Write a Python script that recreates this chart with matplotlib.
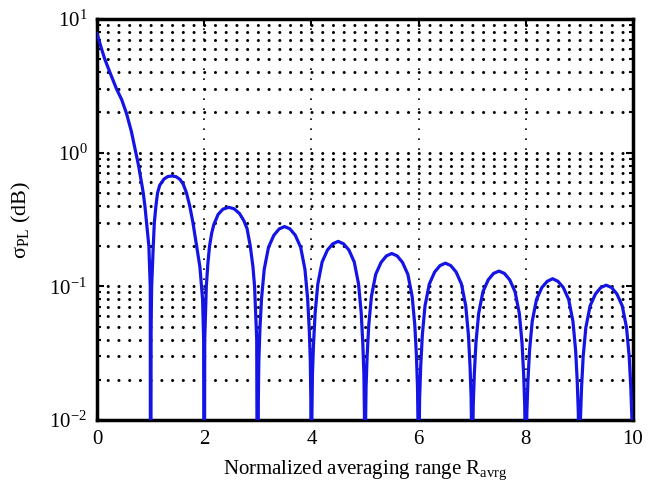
import matplotlib
matplotlib.use("Agg")
import matplotlib.pyplot as plt
from matplotlib.ticker import LogLocator, NullFormatter

plt.rcParams['font.family'] = ['Liberation Serif', 'DejaVu Serif']
plt.rcParams['mathtext.fontset'] = 'custom'
plt.rcParams['mathtext.rm'] = 'Liberation Serif'
plt.rcParams['mathtext.it'] = 'Liberation Serif:italic'

# main lobe (values below 1e-2 just take the line off the axis)
main_x = [0.0, 0.034, 0.084, 0.146, 0.24, 0.364, 0.46, 0.55, 0.64, 0.725, 0.75, 0.776,
          0.80, 0.83, 0.863, 0.894, 0.925, 0.968, 0.994, 1.0]
main_y = [7.8, 7.0, 6.0, 5.0, 4.0, 3.0, 2.5, 1.97, 1.45, 1.0, 0.9, 0.8,
          0.7, 0.6, 0.5, 0.4, 0.3, 0.2, 0.1, 1e-4]

# first two side lobes
lobe1_x = [1.01, 1.02, 1.05, 1.07, 1.10, 1.13, 1.17, 1.25, 1.32, 1.40, 1.48, 1.55,
           1.61, 1.67, 1.73, 1.79, 1.86, 1.92, 1.97, 1.99, 2.0]
lobe1_y = [0.05, 0.1, 0.2, 0.3, 0.4, 0.5, 0.57, 0.635, 0.662, 0.67, 0.66, 0.63,
           0.58, 0.5, 0.4, 0.3, 0.2, 0.14, 0.08, 0.04, 1e-4]
lobe2_x = [2.01, 2.04, 2.07, 2.10, 2.14, 2.18, 2.26, 2.35, 2.46, 2.56, 2.66, 2.74,
           2.80, 2.86, 2.91, 2.94, 2.98, 3.0]
lobe2_y = [0.04, 0.1, 0.15, 0.2, 0.25, 0.29, 0.345, 0.378, 0.39, 0.38, 0.35, 0.31,
           0.27, 0.2, 0.14, 0.1, 0.04, 1e-4]

# remaining side lobes, sampled between the zeros
lobe_x = [
    [3.01, 3.02, 3.04, 3.07, 3.12, 3.2, 3.3, 3.4, 3.5, 3.6, 3.7, 3.8, 3.88, 3.93, 3.96, 3.98, 3.99, 4.0],
    [4.01, 4.02, 4.04, 4.07, 4.12, 4.2, 4.3, 4.4, 4.5, 4.6, 4.7, 4.8, 4.88, 4.93, 4.96, 4.98, 4.99, 5.0],
    [5.01, 5.02, 5.04, 5.07, 5.12, 5.2, 5.3, 5.4, 5.5, 5.6, 5.7, 5.8, 5.88, 5.93, 5.96, 5.98, 5.99, 6.0],
    [6.01, 6.02, 6.04, 6.07, 6.12, 6.2, 6.3, 6.4, 6.5, 6.6, 6.7, 6.8, 6.88, 6.93, 6.96, 6.98, 6.99, 7.0],
    [7.01, 7.02, 7.04, 7.07, 7.12, 7.2, 7.3, 7.4, 7.5, 7.6, 7.7, 7.8, 7.88, 7.93, 7.96, 7.98, 7.99, 8.0],
    [8.01, 8.02, 8.04, 8.07, 8.12, 8.2, 8.3, 8.4, 8.5, 8.6, 8.7, 8.8, 8.88, 8.93, 8.96, 8.98, 8.99, 9.0],
    [9.01, 9.02, 9.04, 9.07, 9.12, 9.2, 9.3, 9.4, 9.5, 9.6, 9.7, 9.8, 9.88, 9.93, 9.96, 9.98, 9.99, 10.0],
]
lobe_y = [
    [0.014, 0.028, 0.048, 0.081, 0.134, 0.196, 0.241, 0.269, 0.28, 0.269, 0.241, 0.196, 0.134, 0.081, 0.048, 0.028, 0.014, 1e-4],
    [0.011, 0.022, 0.037, 0.063, 0.104, 0.152, 0.187, 0.208, 0.217, 0.208, 0.187, 0.152, 0.104, 0.063, 0.037, 0.022, 0.011, 1e-4],
    [0.0088, 0.0176, 0.030, 0.051, 0.084, 0.123, 0.151, 0.169, 0.176, 0.169, 0.151, 0.123, 0.084, 0.051, 0.030, 0.0176, 0.0088, 1e-4],
    [0.0075, 0.0149, 0.0253, 0.0432, 0.0715, 0.104, 0.128, 0.143, 0.149, 0.143, 0.128, 0.104, 0.0715, 0.0432, 0.0253, 0.0149, 0.0075, 1e-4],
    [0.0065, 0.013, 0.0221, 0.0377, 0.0624, 0.091, 0.112, 0.125, 0.130, 0.125, 0.112, 0.091, 0.0624, 0.0377, 0.0221, 0.013, 0.0065, 1e-4],
    [0.0057, 0.0114, 0.0194, 0.0331, 0.0547, 0.0798, 0.098, 0.109, 0.114, 0.109, 0.098, 0.0798, 0.0547, 0.0331, 0.0194, 0.0114, 0.0057, 1e-4],
    [0.0051, 0.0102, 0.0173, 0.0296, 0.049, 0.0714, 0.0877, 0.098, 0.102, 0.098, 0.0877, 0.0714, 0.049, 0.0296, 0.0173, 0.0102, 0.0051, 1e-4],
]

r_avrg = main_x + lobe1_x + lobe2_x
sigma_pl = main_y + lobe1_y + lobe2_y
for xs, ys in zip(lobe_x, lobe_y):
    r_avrg += xs
    sigma_pl += ys

x_ticks = [0, 2, 4, 6, 8, 10]

fig = plt.figure(figsize=(6.67, 4.91), dpi=100)
ax = fig.add_axes([0.1454, 0.1446, 0.8036, 0.8167])

ax.plot(r_avrg, sigma_pl, color='#1414e6', linewidth=2.3, solid_joinstyle='round', zorder=3)

ax.set_yscale('log')
ax.set_xlim(0, 10)
ax.set_ylim(1e-2, 1e1)
ax.set_xticks(x_ticks)
ax.yaxis.set_major_locator(LogLocator(base=10.0, numticks=10))
ax.yaxis.set_minor_locator(LogLocator(base=10.0, subs=range(2, 10), numticks=100))
ax.yaxis.set_minor_formatter(NullFormatter())

# MATLAB-like dotted grid: heavy dots on the log rows, light dots on the x columns
ax.grid(True, axis='y', which='both', color='black', linewidth=2.2,
        linestyle=(0, (0.01, 3.5)), dash_capstyle='round')
ax.grid(True, axis='x', which='major', color='black', linewidth=1.2,
        linestyle=(0, (1, 5)))

ax.tick_params(which='both', direction='in', top=True, right=True, labelsize=15,
               width=1.5, pad=7)
ax.tick_params(which='major', length=5)
ax.tick_params(which='minor', length=3)
for s in ax.spines.values():
    s.set_linewidth(2.5)

ax.set_xlabel('Normalized averaging range R$_{\\mathrm{avrg}}$', fontsize=15, labelpad=7)
ax.set_ylabel('σ$_{\\mathrm{PL}}$ (dB)', fontsize=16, labelpad=12)

fig.savefig('out.png', dpi=100)
